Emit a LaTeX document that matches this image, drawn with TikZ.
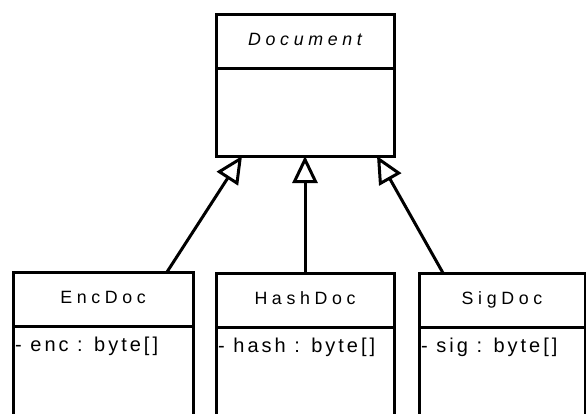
\documentclass[tikz,border=0pt]{standalone}
\usepackage{fontspec}
\setmainfont{Liberation Sans}
\newfontfamily\namefont[LetterSpace=26]{Liberation Sans}
\newfontfamily\attrfont[LetterSpace=15]{Liberation Sans}
\usepackage{tikz}
\usetikzlibrary{positioning}
\usetikzlibrary{arrows.meta}
\tikzset{>=stealth}

\begin{document}
\begin{tikzpicture}[x=1pt,y=-1pt,
      classname/.style={draw, line width=3pt, minimum height=54pt, outer sep=0pt,
      inner sep=0pt, text height=13pt, text depth=5pt,
      font=\namefont\fontsize{17.8}{20}\selectfont},
      classbody/.style={draw, line width=3pt, minimum height=88pt, outer sep=0pt, inner sep=0pt},
      attr/.style={inner sep=0pt, font=\attrfont\fontsize{20}{23}\selectfont},
      inherit/.style={line width=3pt,
      -{Triangle[open, length=27pt, width=25pt]}}]
    \useasboundingbox (0,0) rectangle (586,413);
    \node [classname, minimum width=178pt] (doc) at (305,41) {\itshape Document};
    \node [classbody, minimum width=178pt, below=0pt of doc] (docbody) {};
    \node [classname, minimum width=180pt] (enc) at (103,299) {EncDoc};
    \node [classbody, minimum width=180pt, minimum height=120pt, below=0pt of enc] (encbody) {};
    \node [classname, minimum width=178pt] (hash) at (305,300) {HashDoc};
    \node [classbody, minimum width=178pt, minimum height=120pt, below=0pt of hash] (hashbody) {};
    \node [classname, minimum width=166pt] (sig) at (502,300) {SigDoc};
    \node [classbody, minimum width=166pt, minimum height=120pt, below=0pt of sig] (sigbody) {};
    %% attributes
    \node [attr, below right=11pt and 2pt of encbody.north west] (encattr) {- enc : byte[]};
    \node [attr, below right=11pt and 2pt of hashbody.north west] (hashattr) {- hash : byte[]};
    \node [attr, below right=11pt and 2pt of sigbody.north west] (sigattr) {- sig : byte[]};
    %% generalisation
    \draw [inherit] ([xshift=-26pt]enc.north east) to ([xshift=26pt]docbody.south west);
    \draw [inherit] (hash.north) to (docbody.south);
    \draw [inherit] ([xshift=24pt]sig.north west) to ([xshift=-17pt]docbody.south east);
  \end{tikzpicture}
\end{document}
